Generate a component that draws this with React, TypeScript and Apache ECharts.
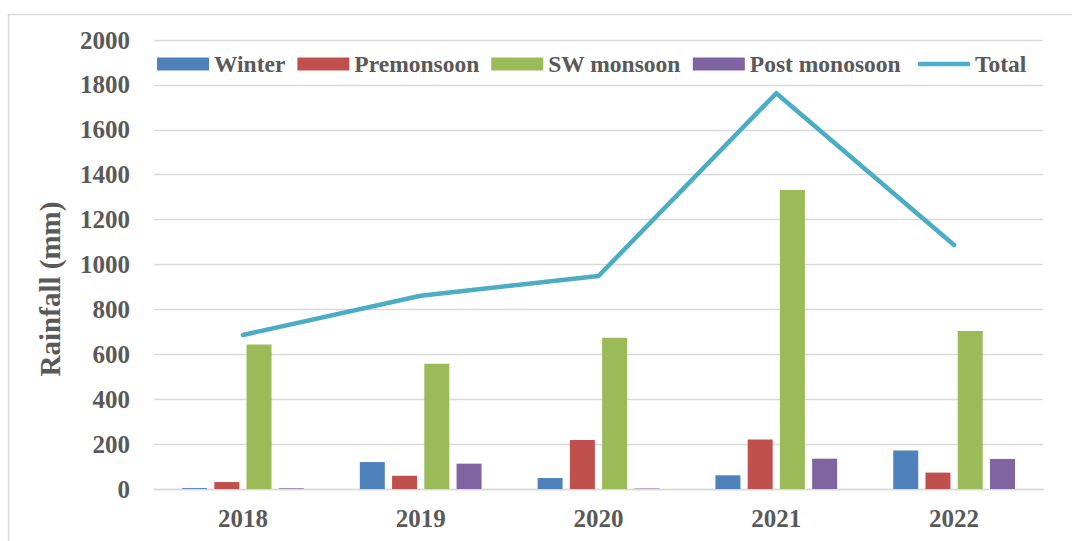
import React, { useEffect, useRef } from "react";
import * as echarts from "echarts";

const years = ["2018", "2019", "2020", "2021", "2022"];
const winter = [4, 120, 49, 61, 171];
const premonsoon = [31, 59, 218, 221, 73];
const swMonsoon = [644, 558, 674, 1332, 704];
const postMonsoon = [3, 113, 2, 135, 134];
const total = [686, 861, 949, 1763, 1087];

const FONT = "Liberation Serif";
const TXT = "#595959";

export default function App() {
  const ref = useRef<HTMLDivElement>(null);
  useEffect(() => {
    const chart = echarts.init(ref.current!, undefined, { renderer: "svg" });
    const barSeries = (name: string, data: number[], color: string) => ({
      name,
      type: "bar",
      data,
      barWidth: 25,
      barGap: "29%",
      itemStyle: { color },
    });
    const legendText = { fontFamily: FONT, fontWeight: "bold", fontSize: 23.5, color: TXT };
    chart.setOption({
      animation: false,
      backgroundColor: "#ffffff",
      grid: { left: 154, right: 29, top: 40, bottom: 52 },
      legend: [
        {
          left: 152,
          top: 47,
          itemWidth: 52,
          itemHeight: 13,
          itemGap: 12,
          textStyle: legendText,
          data: [
            { name: "Winter", icon: "rect" },
            { name: "Premonsoon", icon: "rect" },
            { name: "SW monsoon", icon: "rect" },
            { name: "Post monosoon", icon: "rect" },
          ],
        },
        {
          left: 913,
          top: 47,
          itemWidth: 52,
          itemHeight: 4.5,
          textStyle: legendText,
          data: [{ name: "Total", icon: "roundRect" }],
        },
      ],
      xAxis: {
        type: "category",
        data: years,
        axisTick: { show: false },
        axisLine: { lineStyle: { color: "#d9d9d9", width: 1.3 } },
        axisLabel: { margin: 17, fontFamily: FONT, fontWeight: "bold", fontSize: 25, color: TXT },
      },
      yAxis: {
        type: "value",
        min: 0,
        max: 2000,
        interval: 200,
        axisLine: { show: false },
        axisTick: { show: false },
        splitLine: { lineStyle: { color: "#d9d9d9", width: 1.3 } },
        axisLabel: {
          margin: 24,
          fontFamily: FONT,
          fontWeight: "bold",
          fontSize: 25,
          color: TXT,
          formatter: (v: number) => String(v),
        },
      },
      graphic: [
        {
          type: "rect",
          shape: { x: 8.5, y: 14.5, width: 1100, height: 600 },
          style: { fill: "none", stroke: "#d9d9d9", lineWidth: 1.5 },
          silent: true,
        },
        {
          type: "text",
          x: 50,
          y: 289,
          rotation: Math.PI / 2,
          style: {
            text: "Rainfall (mm)",
            font: `bold 29px '${FONT}'`,
            fill: TXT,
            align: "center",
            verticalAlign: "middle",
          },
        },
      ],
      series: [
        barSeries("Winter", winter, "#4F81BD"),
        barSeries("Premonsoon", premonsoon, "#C0504D"),
        barSeries("SW monsoon", swMonsoon, "#9BBB59"),
        barSeries("Post monosoon", postMonsoon, "#8064A2"),
        {
          name: "Total",
          type: "line",
          data: total,
          symbol: "none",
          lineStyle: { color: "#4BACC6", width: 4.5, cap: "round", join: "round" },
          itemStyle: { color: "#4BACC6" },
        },
      ],
    });
    return () => chart.dispose();
  }, []);
  return (
    <div
      ref={ref}
      style={{ position: "fixed", left: 0, top: 0, width: 1072, height: 541 }}
    />
  );
}
